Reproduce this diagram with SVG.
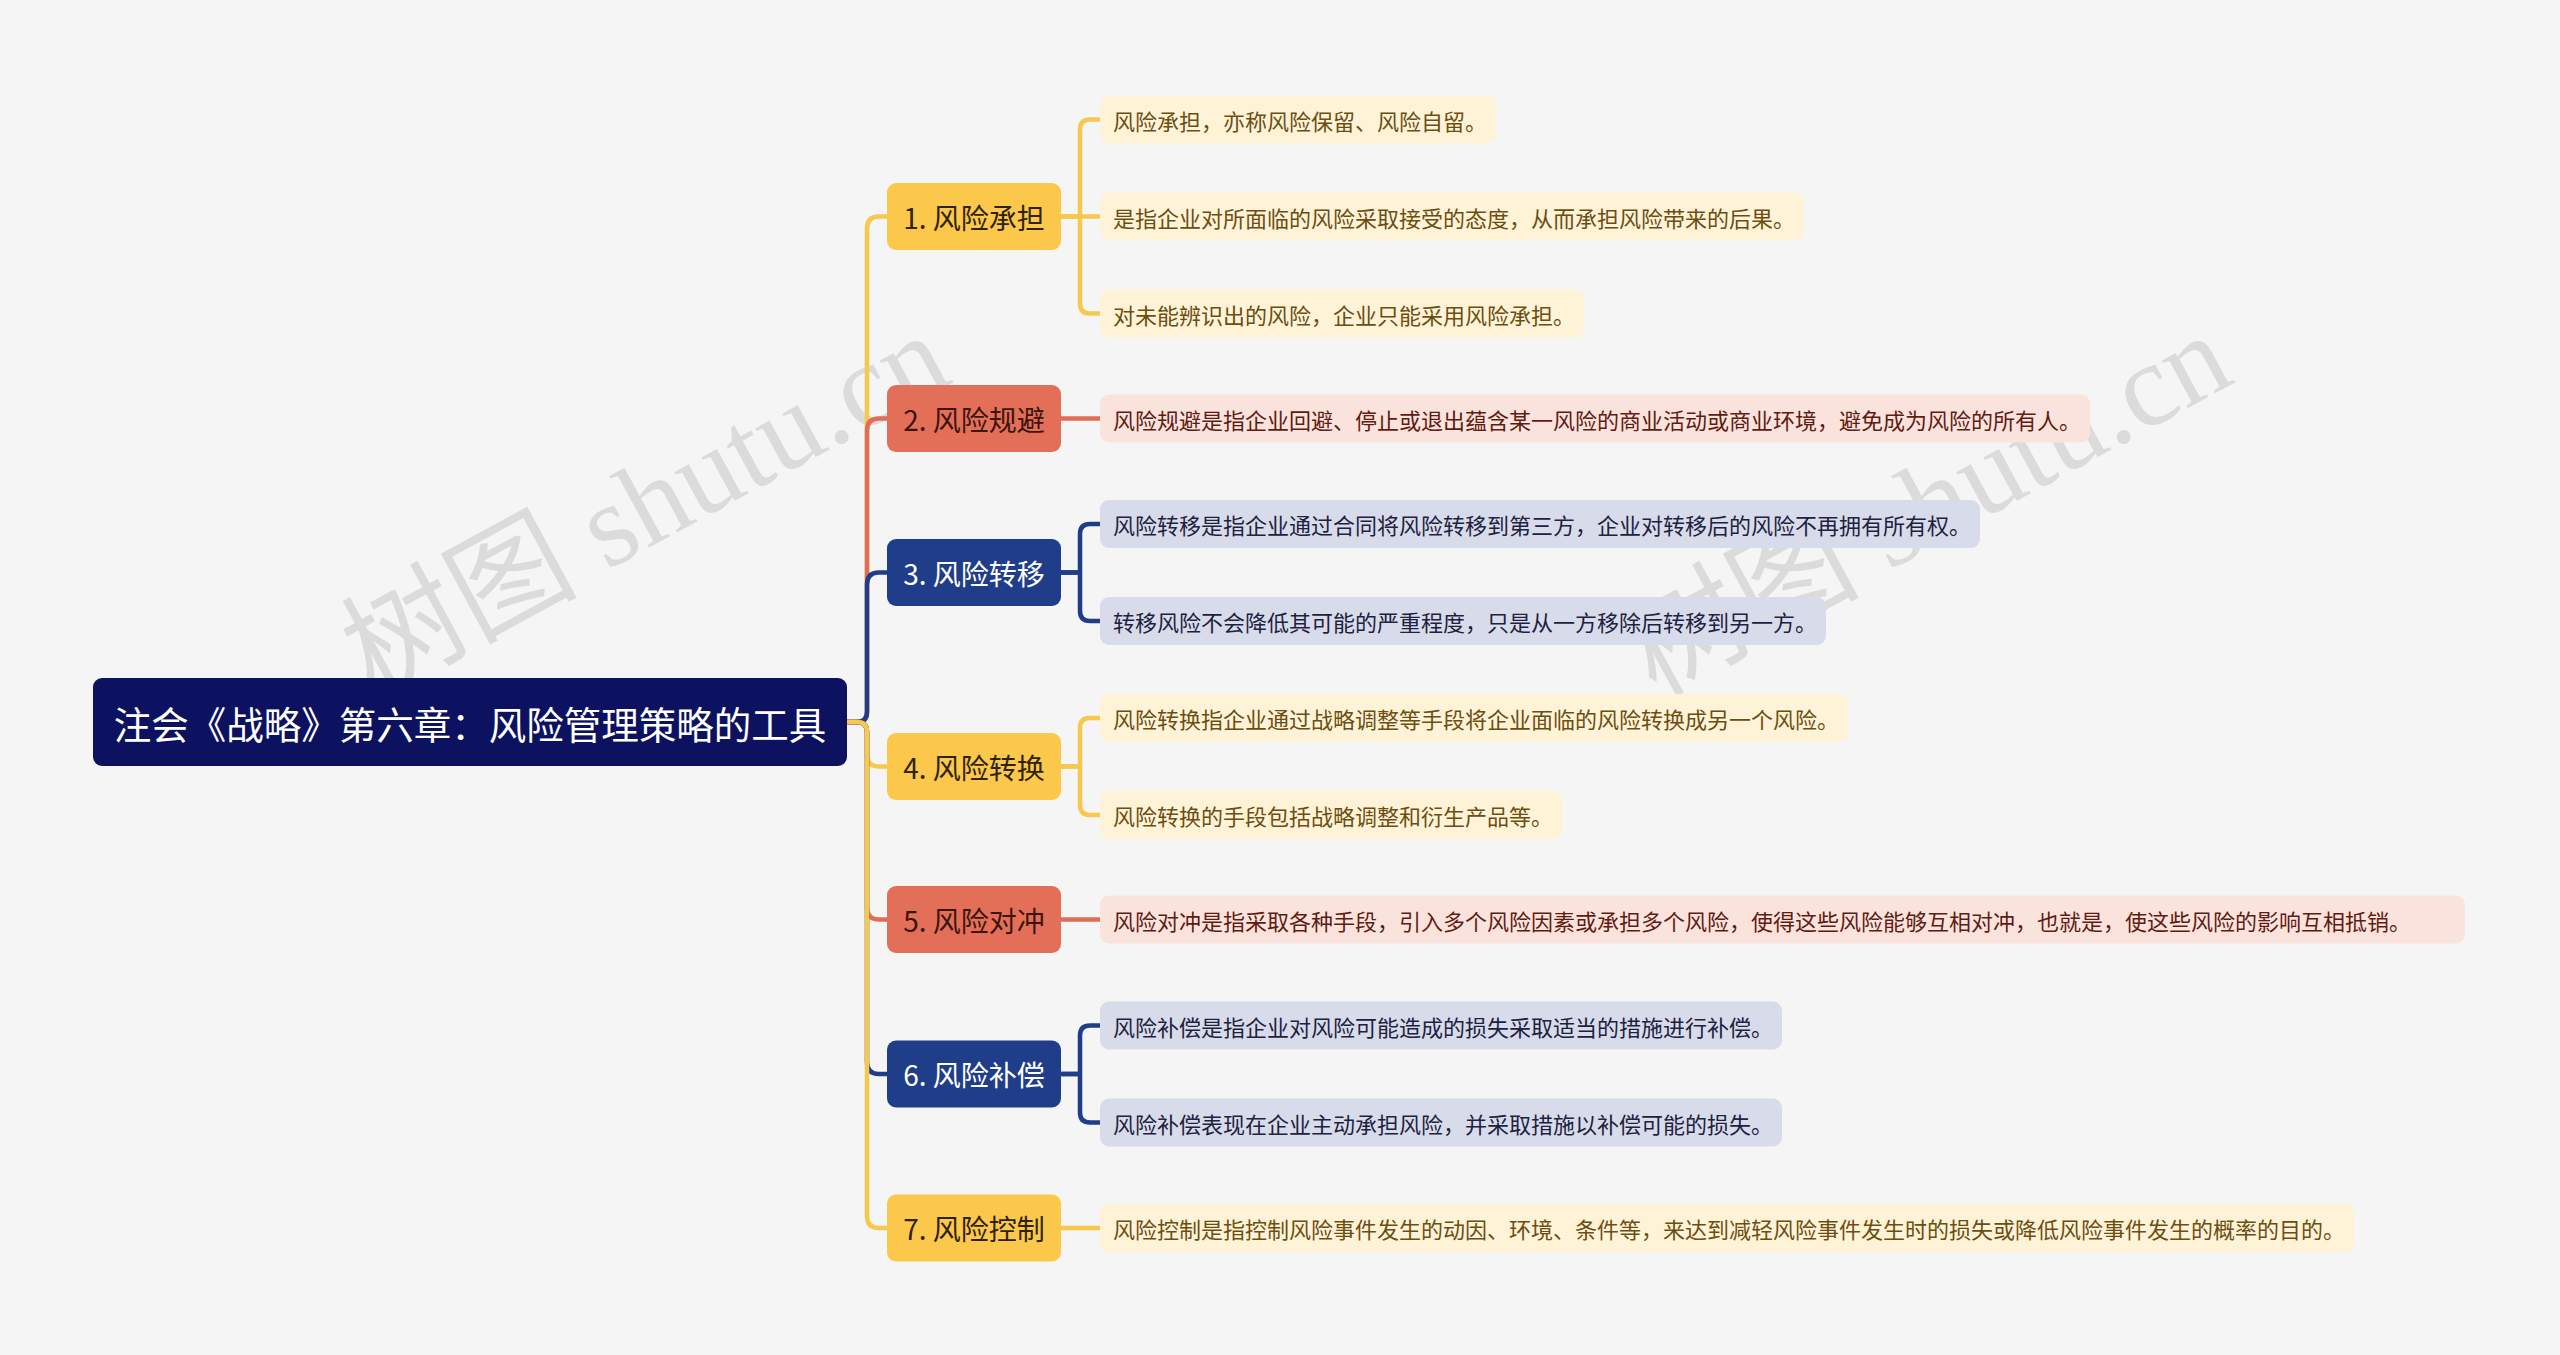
<svg xmlns="http://www.w3.org/2000/svg" width="2560" height="1355" viewBox="0 0 2560 1355">
<style>
.wm{font-family:"Liberation Serif","Noto Sans CJK SC",serif;font-size:118px;fill:#b9b9b9;opacity:0.42}
.c{fill:none;stroke-width:4.5;stroke-linecap:round;stroke-linejoin:round}
.cy{stroke:#f8c74e}.co{stroke:#e26d57}.cb{stroke:#1f3d89}
.t{font-family:"Noto Sans CJK SC","Noto Sans",sans-serif;dominant-baseline:central}
.root{fill:#0c1260}.rt{fill:#ffffff;font-size:37.5px;text-anchor:middle}
.ny{fill:#fcc84b}.no{fill:#e46f59}.nb{fill:#1f3d89}
.n1t{font-size:28px;text-anchor:middle}
.nyt{fill:#2e2306}.not{fill:#3c1510}.nbt{fill:#ffffff}
.ly{fill:#fff3d7}.lo{fill:#fbe3dd}.lb{fill:#d8dcea}
.lt{font-size:22px}
.lyt{fill:#6b4e12}.lot{fill:#5e1c12}.lbt{fill:#1d2240}
</style>
<rect width="2560" height="1355" fill="#f5f5f5"/>
<g id="watermarks">
<text class="wm" x="646" y="544" text-anchor="middle" transform="rotate(-28.5 646 506)">树图 shutu.cn</text>
<text class="wm" x="1928" y="544" text-anchor="middle" transform="rotate(-28.5 1928 506)">树图 shutu.cn</text>
</g>
<g id="connectors">
<path class="c cy" d="M847 722 H857 Q867 722 867 712 V228.5 Q867 216.5 879 216.5 H887"/>
<path class="c co" d="M847 722 H857 Q867 722 867 712 V430.5 Q867 418.5 879 418.5 H887"/>
<path class="c cb" d="M847 722 H857 Q867 722 867 712 V584.5 Q867 572.5 879 572.5 H887"/>
<path class="c cy" d="M847 722 H857 Q867 722 867 732 V754.5 Q867 766.5 879 766.5 H887"/>
<path class="c co" d="M847 722 H857 Q867 722 867 732 V907.5 Q867 919.5 879 919.5 H887"/>
<path class="c cb" d="M847 722 H857 Q867 722 867 732 V1062 Q867 1074 879 1074 H887"/>
<path class="c cy" d="M847 722 H857 Q867 722 867 732 V1216 Q867 1228 879 1228 H887"/>
<path class="c cy" d="M1061 216.5 H1080 V129.5 Q1080 119.5 1090 119.5 H1100"/>
<path class="c cy" d="M1061 216.5 H1100"/>
<path class="c cy" d="M1061 216.5 H1080 V303.5 Q1080 313.5 1090 313.5 H1100"/>
<path class="c co" d="M1061 418.5 H1100"/>
<path class="c cb" d="M1061 572.5 H1080 V534 Q1080 524 1090 524 H1100"/>
<path class="c cb" d="M1061 572.5 H1080 V611 Q1080 621 1090 621 H1100"/>
<path class="c cy" d="M1061 766.5 H1080 V728 Q1080 718 1090 718 H1100"/>
<path class="c cy" d="M1061 766.5 H1080 V805 Q1080 815 1090 815 H1100"/>
<path class="c co" d="M1061 919.5 H1100"/>
<path class="c cb" d="M1061 1074 H1080 V1035.5 Q1080 1025.5 1090 1025.5 H1100"/>
<path class="c cb" d="M1061 1074 H1080 V1112.5 Q1080 1122.5 1090 1122.5 H1100"/>
<path class="c cy" d="M1061 1228 H1100"/>
</g>
<g id="root">
<rect class="root" x="93" y="678" width="754" height="88" rx="9"/>
<text class="t rt" x="470" y="722">注会《战略》第六章：风险管理策略的工具</text>
</g>
<g id="n1"><rect class="ny" x="887" y="183" width="174" height="67" rx="9"/><text class="t n1t nyt" x="974" y="216.5">1. 风险承担</text></g>
<g id="n2"><rect class="no" x="887" y="385" width="174" height="67" rx="9"/><text class="t n1t not" x="974" y="418.5">2. 风险规避</text></g>
<g id="n3"><rect class="nb" x="887" y="539" width="174" height="67" rx="9"/><text class="t n1t nbt" x="974" y="572.5">3. 风险转移</text></g>
<g id="n4"><rect class="ny" x="887" y="733" width="174" height="67" rx="9"/><text class="t n1t nyt" x="974" y="766.5">4. 风险转换</text></g>
<g id="n5"><rect class="no" x="887" y="886" width="174" height="67" rx="9"/><text class="t n1t not" x="974" y="919.5">5. 风险对冲</text></g>
<g id="n6"><rect class="nb" x="887" y="1040.5" width="174" height="67" rx="9"/><text class="t n1t nbt" x="974" y="1074">6. 风险补偿</text></g>
<g id="n7"><rect class="ny" x="887" y="1194.5" width="174" height="67" rx="9"/><text class="t n1t nyt" x="974" y="1228">7. 风险控制</text></g>
<g id="l1a"><rect class="ly" x="1100" y="95.5" width="396" height="48" rx="9"/><text class="t lt lyt" x="1113" y="119.5">风险承担，亦称风险保留、风险自留。</text></g>
<g id="l1b"><rect class="ly" x="1100" y="192.5" width="704" height="48" rx="9"/><text class="t lt lyt" x="1113" y="216.5">是指企业对所面临的风险采取接受的态度，从而承担风险带来的后果。</text></g>
<g id="l1c"><rect class="ly" x="1100" y="289.5" width="484" height="48" rx="9"/><text class="t lt lyt" x="1113" y="313.5">对未能辨识出的风险，企业只能采用风险承担。</text></g>
<g id="l2"><rect class="lo" x="1100" y="394.5" width="990" height="48" rx="9"/><text class="t lt lot" x="1113" y="418.5">风险规避是指企业回避、停止或退出蕴含某一风险的商业活动或商业环境，避免成为风险的所有人。</text></g>
<g id="l3a"><rect class="lb" x="1100" y="500" width="880" height="48" rx="9"/><text class="t lt lbt" x="1113" y="524">风险转移是指企业通过合同将风险转移到第三方，企业对转移后的风险不再拥有所有权。</text></g>
<g id="l3b"><rect class="lb" x="1100" y="597" width="726" height="48" rx="9"/><text class="t lt lbt" x="1113" y="621">转移风险不会降低其可能的严重程度，只是从一方移除后转移到另一方。</text></g>
<g id="l4a"><rect class="ly" x="1100" y="694" width="748" height="48" rx="9"/><text class="t lt lyt" x="1113" y="718">风险转换指企业通过战略调整等手段将企业面临的风险转换成另一个风险。</text></g>
<g id="l4b"><rect class="ly" x="1100" y="791" width="462" height="48" rx="9"/><text class="t lt lyt" x="1113" y="815">风险转换的手段包括战略调整和衍生产品等。</text></g>
<g id="l5"><rect class="lo" x="1100" y="895.5" width="1365" height="48" rx="9"/><text class="t lt lot" x="1113" y="919.5">风险对冲是指采取各种手段，引入多个风险因素或承担多个风险，使得这些风险能够互相对冲，也就是，使这些风险的影响互相抵销。</text></g>
<g id="l6a"><rect class="lb" x="1100" y="1001.5" width="682" height="48" rx="9"/><text class="t lt lbt" x="1113" y="1025.5">风险补偿是指企业对风险可能造成的损失采取适当的措施进行补偿。</text></g>
<g id="l6b"><rect class="lb" x="1100" y="1098.5" width="682" height="48" rx="9"/><text class="t lt lbt" x="1113" y="1122.5">风险补偿表现在企业主动承担风险，并采取措施以补偿可能的损失。</text></g>
<g id="l7"><rect class="ly" x="1100" y="1204" width="1254" height="48" rx="9"/><text class="t lt lyt" x="1113" y="1228">风险控制是指控制风险事件发生的动因、环境、条件等，来达到减轻风险事件发生时的损失或降低风险事件发生的概率的目的。</text></g>
</svg>
